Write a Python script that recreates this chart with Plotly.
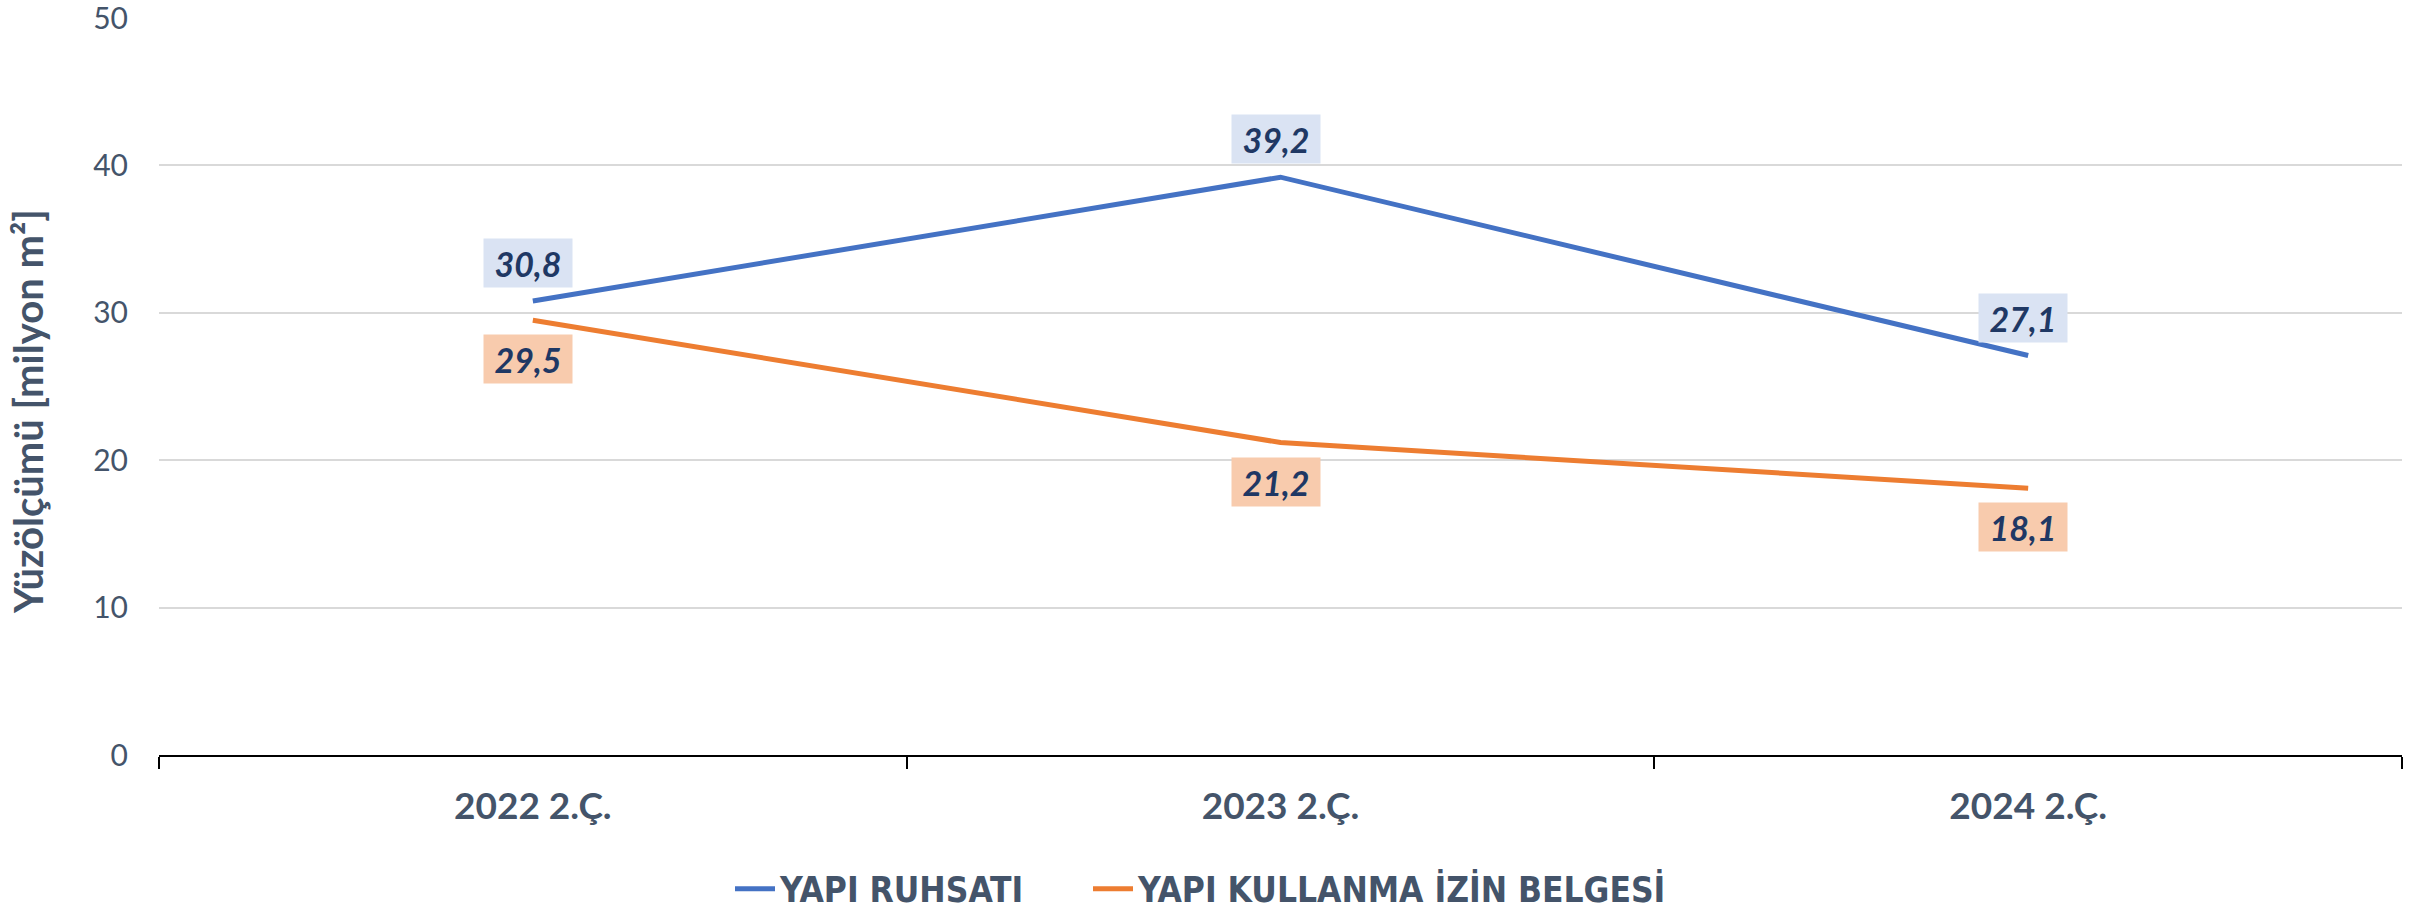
import plotly.graph_objects as go

# data
quarters = ['2022 2.Ç.', '2023 2.Ç.', '2024 2.Ç.']
ruhsat = [30.8, 39.2, 27.1]
iskan = [29.5, 21.2, 18.1]
ruhsat_labels = ['30,8', '39,2', '27,1']
iskan_labels = ['29,5', '21,2', '18,1']

BLUE = '#4472C4'
ORANGE = '#ED7D31'
AXIS_TXT = '#44546A'
LABEL_TXT = '#1F3864'

W, H = 2422, 911

fig = go.Figure()
fig.add_trace(go.Scatter(x=quarters, y=ruhsat, mode='lines', name='YAPI RUHSATI',
                         line=dict(color=BLUE, width=5), legend='legend'))
fig.add_trace(go.Scatter(x=quarters, y=iskan, mode='lines', name='YAPI KULLANMA İZİN BELGESİ',
                         line=dict(color=ORANGE, width=5), legend='legend2'))

label_font = dict(family='Lato, sans-serif', size=34, color=LABEL_TXT,
                  weight='bold', style='italic')

for q, v, t in zip(quarters, ruhsat, ruhsat_labels):
    fig.add_annotation(x=q, y=v, text=t, showarrow=False, yshift=38, xshift=-5,
                       bgcolor='#DAE3F3', width=80, height=40, borderpad=4,
                       font=label_font)
for q, v, t in zip(quarters, iskan, iskan_labels):
    fig.add_annotation(x=q, y=v, text=t, showarrow=False, yshift=-39, xshift=-5,
                       bgcolor='#F8CBAD', width=80, height=40, borderpad=4,
                       font=label_font)

# y axis title, placed like the original (a bit below the middle of the axis)
fig.add_annotation(text='Yüzölçümü [milyon m²]', textangle=-90, showarrow=False,
                   xref='paper', yref='paper', x=-(159 - 28) / 2243, y=(755 - 412) / 737,
                   xanchor='center', yanchor='middle',
                   font=dict(family='Lato, sans-serif', size=40, color=AXIS_TXT, weight='bold'))

legend_font = dict(family='Liberation Sans Narrow, DejaVu Sans Condensed, sans-serif',
                   size=35, color=AXIS_TXT, weight='bold')

fig.update_layout(
    width=W, height=H,
    margin=dict(l=159, r=20, t=18, b=156, autoexpand=False),
    plot_bgcolor='white', paper_bgcolor='white',
    showlegend=True,
    legend=dict(orientation='h', xref='container', yref='container',
                x=730 / W, xanchor='left', y=1 - 889 / H, yanchor='middle',
                font=legend_font, itemwidth=40),
    legend2=dict(orientation='h', xref='container', yref='container',
                 x=1088 / W, xanchor='left', y=1 - 889 / H, yanchor='middle',
                 font=legend_font, itemwidth=40),
)

fig.update_xaxes(
    type='category', range=[-0.5, 2.5], automargin=False,
    showline=True, linecolor='black', linewidth=2,
    ticks='outside', tickson='boundaries', ticklen=12, tickcolor='black', tickwidth=2,
    tickfont=dict(family='Lato, sans-serif', size=37, color=AXIS_TXT, weight='bold'),
    ticklabelstandoff=18,
    showgrid=False,
)
fig.update_yaxes(
    range=[0, 50], tickvals=[0, 10, 20, 30, 40, 50], automargin=False,
    showgrid=True, gridcolor='#D9D9D9', gridwidth=1.5,
    zeroline=False, ticklabeloverflow='allow',
    tickfont=dict(family='Lato, sans-serif', size=30, color=AXIS_TXT),
    ticklabelstandoff=30,
)

# drop the default 8px body margin so the figure fills the window exactly
fig.write_html('out.html', config={'displayModeBar': False},
               post_script="document.body.style.margin='0';document.body.style.overflow='hidden';")
